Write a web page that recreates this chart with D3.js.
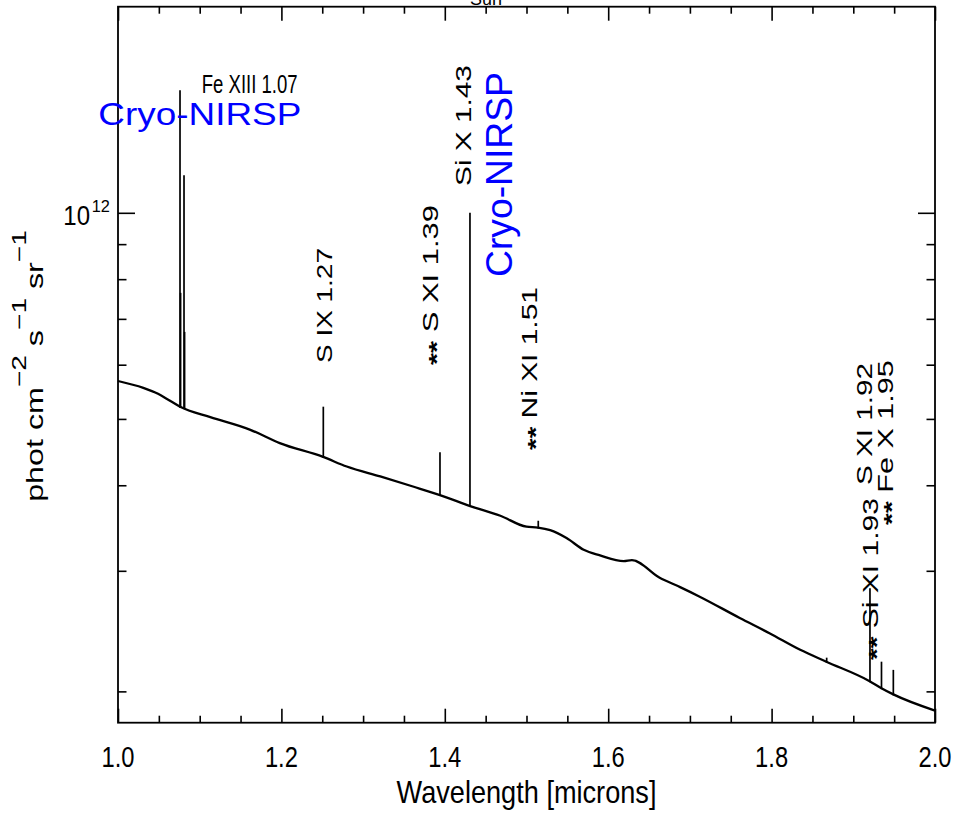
<!DOCTYPE html>
<html><head><meta charset="utf-8">
<script src="https://cdn.jsdelivr.net/npm/d3@7"></script>
<style>
body{margin:0;background:#fff;}
svg{display:block;}
text{font-family:"Liberation Sans",Arial,Helvetica,sans-serif;}
</style>
</head><body>
<svg id="chart" width="955" height="813"></svg>
<script>
// ---------------- data ----------------
// continuum (wavelength in microns, flux in phot cm^-2 s^-1 sr^-1)
const contWave = [1.000,1.031,1.049,1.062,1.076,1.113,1.162,1.198,1.251,1.280,1.321,1.362,1.394,1.431,1.468,1.500,1.514,1.529,1.549,1.570,1.590,1.619,1.629,1.663,1.688,1.712,1.761,1.798,1.835,1.867,1.920,1.935,1.949,2.000];
const contFlux = [5.68e11,5.55e11,5.44e11,5.33e11,5.21e11,5.03e11,4.82e11,4.61e11,4.40e11,4.26e11,4.12e11,3.98e11,3.87e11,3.73e11,3.61e11,3.48e11,3.47e11,3.44e11,3.35e11,3.22e11,3.16e11,3.10e11,3.11e11,2.93e11,2.84e11,2.75e11,2.56e11,2.43e11,2.30e11,2.21e11,2.07e11,2.02e11,1.98e11,1.875e11];
// emission lines (wavelength, peak flux)
const lineWave = [1.0759,1.0766,1.0808,1.0815,1.2513,1.3941,1.4308,1.5144,1.8674,1.9204,1.9345,1.9490];
const linePeak = [1.51e12,7.64e11,1.135e12,6.70e11,5.21e11,4.47e11,1.00e12,3.55e11,2.24e11,2.83e11,2.21e11,2.15e11];
// axis ticks
const xMajorTicks = [1.0,1.2,1.4,1.6,1.8,2.0];
const xTickLabels = ["1.0","1.2","1.4","1.6","1.8","2.0"];
const xMinorTicks = [1.05,1.1,1.15,1.25,1.3,1.35,1.45,1.5,1.55,1.65,1.7,1.75,1.85,1.9,1.95];
const yMajorTicks = [1e12];
const yMinorTicks = [2e11,3e11,4e11,5e11,6e11,7e11,8e11,9e11];
// annotation labels
const lineLabels = [
  {text:"S IX 1.27", w:1.2513},
  {text:"** S XI 1.39", w:1.3941},
  {text:"Si X 1.43", w:1.4308},
  {text:"** Ni XI 1.51", w:1.5144},
  {text:"S XI 1.92", w:1.9204},
  {text:"** Si XI 1.93", w:1.9345},
  {text:"** Fe X 1.95", w:1.9490}
];

// ---------------- layout ----------------
const W = 955, H = 813;
const m = {left:118, right:20, top:6.7, bottom:90.3};
const svg = d3.select("#chart");
const x = d3.scaleLinear().domain([1.0,2.0]).range([m.left, W-m.right]);
const y = d3.scaleLog().domain([1.8e11,2e12]).range([H-m.bottom, m.top]);

// text helper: font-size sets glyph height, len sets length along text direction
function fitText(parent, o){
  const g = parent.append("g").attr("transform",`translate(${o.x},${o.y}) rotate(${o.rot||0})`);
  const t = g.append("text").attr("font-size",o.size).attr("fill",o.color||"#000")
    .attr("text-anchor",o.anchor||"start");
  (o.parts||[{t:o.text}]).forEach(p=>{
    const ts = t.append("tspan").text(p.t);
    if(p.dy!==undefined) ts.attr("dy",p.dy);
    if(p.fs) ts.attr("font-size",p.fs);
    if(p.fw) ts.attr("font-weight",p.fw);
  });
  const w = t.node().getBBox().width;
  t.attr("transform",`scale(${o.len/w},1)`);
  return g;
}

// ---------------- spectrum ----------------
const cont = contWave.map((w,i)=>[w,contFlux[i]]);
const line = d3.line().x(d=>x(d[0])).y(d=>y(d[1])).curve(d3.curveMonotoneX);
svg.append("path").datum(cont).attr("d",line)
  .attr("fill","none").attr("stroke","#000").attr("stroke-width",2.3).attr("stroke-linejoin","round");

const interp = d3.scaleLinear().domain(contWave).range(contFlux);
svg.append("g").selectAll("line").data(lineWave).join("line")
  .attr("x1",d=>x(d)).attr("x2",d=>x(d))
  .attr("y1",d=>y(interp(d))+1).attr("y2",(d,i)=>y(linePeak[i]))
  .attr("stroke","#000").attr("stroke-width",1.7);

// ---------------- axes ----------------
const ax = svg.append("g");
function inward(axisGen, tr){
  const g = ax.append("g").attr("transform",tr).call(axisGen);
  g.select(".domain").remove();
  g.selectAll("text").remove();
  g.selectAll("line").attr("stroke","#000").attr("stroke-width",1.6);
}
const yb = H-m.bottom, yt = m.top, xl = m.left, xr = W-m.right;
inward(d3.axisBottom(x).tickValues(xMajorTicks).tickSize(-14), `translate(0,${yb})`);
inward(d3.axisBottom(x).tickValues(xMinorTicks).tickSize(-7), `translate(0,${yb})`);
inward(d3.axisTop(x).tickValues(xMajorTicks).tickSize(-14), `translate(0,${yt})`);
inward(d3.axisTop(x).tickValues(xMinorTicks).tickSize(-7), `translate(0,${yt})`);
inward(d3.axisLeft(y).tickValues(yMajorTicks).tickSize(-17), `translate(${xl},0)`);
inward(d3.axisLeft(y).tickValues(yMinorTicks).tickSize(-8.5), `translate(${xl},0)`);
inward(d3.axisRight(y).tickValues(yMajorTicks).tickSize(-17), `translate(${xr},0)`);
inward(d3.axisRight(y).tickValues(yMinorTicks).tickSize(-8.5), `translate(${xr},0)`);
svg.append("rect").attr("x",xl).attr("y",yt).attr("width",xr-xl).attr("height",yb-yt)
  .attr("fill","none").attr("stroke","#000").attr("stroke-width",1.8);

// tick labels
xMajorTicks.forEach((v,i)=>{
  fitText(svg,{x:x(v),y:766.7,size:30,len:33,anchor:"middle",text:xTickLabels[i]});
});
fitText(svg,{x:63.3,y:225,size:28,len:26.7,text:"10"});
fitText(svg,{x:91.7,y:y(1e12)-1,size:16,len:18.3,text:"12"});

// axis titles
fitText(svg,{x:(xl+xr)/2,y:802.7,size:31.5,len:260,anchor:"middle",text:"Wavelength [microns]"});
fitText(svg,{x:43,y:366,rot:-90,size:23,len:272,anchor:"middle",parts:[
  {t:"phot  cm"},{t:"−2",dy:-17,fs:20},{t:"  s",dy:17},{t:"−1",dy:-17,fs:20},
  {t:"  sr",dy:17},{t:"−1",dy:-17,fs:20}]});

// title fragment (clipped at the top edge, as in the reference)
fitText(svg,{x:470,y:5,size:18,len:32,text:"Sun"});

// ---------------- annotations ----------------
fitText(svg,{x:201.7,y:93.3,size:25,len:96,text:"Fe XIII 1.07"});
fitText(svg,{x:98.3,y:125,size:32,len:203,color:"#0000ff",text:"Cryo-NIRSP"});
fitText(svg,{x:511.7,y:277,rot:-90,size:37,len:205,color:"#0000ff",text:"Cryo-NIRSP"});

const labelPos = {
  "S IX 1.27":    {bx:332,  by:363, len:115},
  "** S XI 1.39": {bx:438,  by:365, len:160},
  "Si X 1.43":    {bx:471,  by:186, len:121},
  "** Ni XI 1.51":{bx:536.7,by:450, len:163},
  "S XI 1.92":    {bx:871.7,by:485, len:122},
  "** Si XI 1.93":{bx:878,  by:660, len:162},
  "** Fe X 1.95": {bx:893,  by:525, len:165}
};
lineLabels.forEach(l=>{
  const p = labelPos[l.text];
  let parts;
  if(l.text.startsWith("**")) parts = [{t:"**",dy:6,fw:"bold"},{t:l.text.slice(2),dy:-6}];
  else parts = [{t:l.text}];
  fitText(svg,{x:p.bx,y:p.by,rot:-90,size:22,len:p.len,parts});
});
</script>
</body></html>
